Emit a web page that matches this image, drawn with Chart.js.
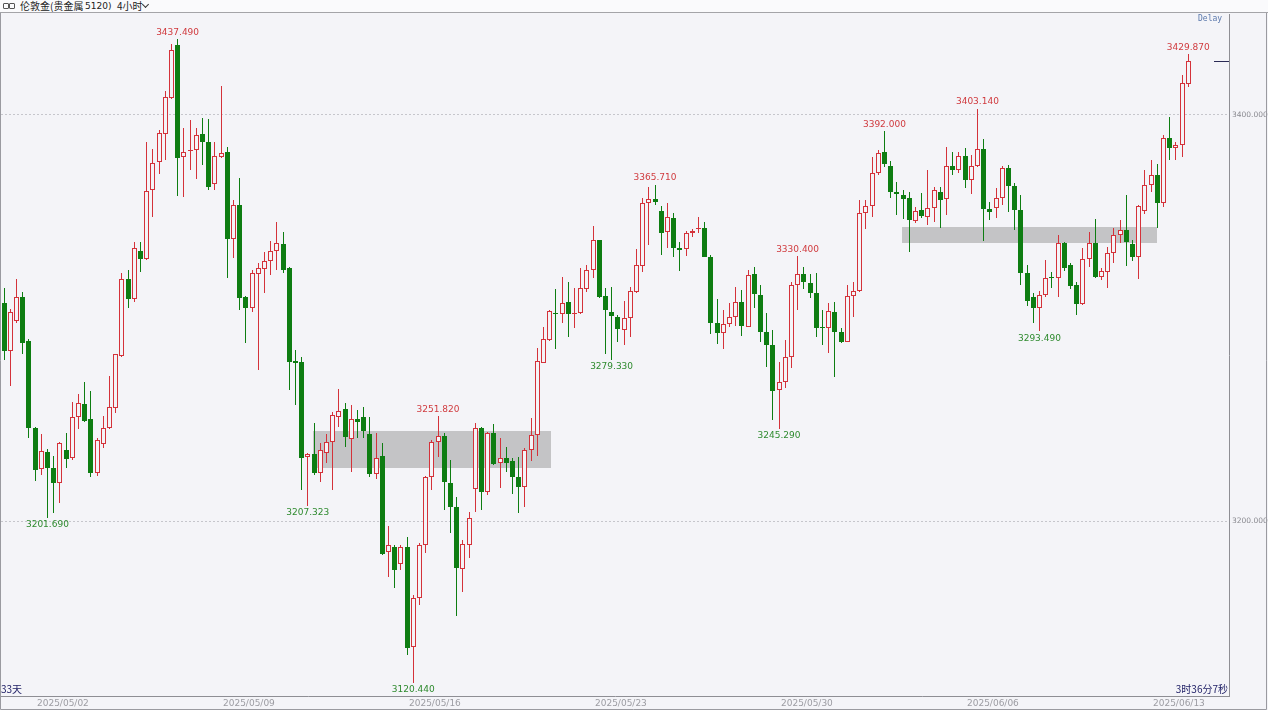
<!DOCTYPE html>
<html>
<head>
<meta charset="utf-8">
<script src="https://cdn.jsdelivr.net/npm/chart.js@4.4.1/dist/chart.umd.min.js"></script>
<style>
html, body { margin: 0; padding: 0; background: #f4f4f8; }
#wrap { position: relative; width: 1268px; height: 710px; overflow: hidden; }
#head { position: absolute; left: 0; top: 0; width: 1268px; height: 12px; background: #fafafc; border-bottom: 1px solid #a4a4a8; color: #222; }
#head span { position: absolute; top: 0; line-height: 12px; white-space: nowrap; }
.cjk { font: 10px "Noto Sans CJK SC", sans-serif; }
.lat { font: 9px "DejaVu Sans", sans-serif; }
.ico { left: 3px; top: 3px !important; width: 12px; height: 6px; }
.ico i { position: absolute; top: 0; width: 4px; height: 4px; border: 1px solid #555; border-radius: 1px; }
#head .chev { left: 143px; top: 2px; width: 4px; height: 4px; border-right: 1px solid #333; border-bottom: 1px solid #333; transform: rotate(45deg); }
.note { position: absolute; font: 10px "Noto Sans CJK SC", sans-serif; color: #232368; line-height: 12px; }
#delay { position: absolute; left: 1198px; top: 14px; font: 8px "DejaVu Sans Mono", monospace; color: #5b79ad; }
canvas { position: absolute; left: 0; top: 0; }
</style>
</head>
<body>
<div id="wrap">
  <canvas id="c" width="1268" height="710"></canvas>
  <div id="head">
    <span class="ico"><i style="left:0"></i><i style="left:6px"></i></span>
    <span class="cjk" style="left:20px">伦敦金(贵金属</span>
    <span class="lat" style="left:85px">5120)</span>
    <span class="cjk" style="left:117px">4小时</span>
    <span class="chev"></span>
  </div>
  <div id="delay">Delay</div>
  <div class="note" style="left:1px; top:683px">33天</div>
  <div class="note" style="right:40px; top:683px">3时36分7秒</div>
</div>
<script>
// 4h candles
const open = [3307.5,3283.7,3298.5,3310.2,3288.7,3246.0,3225.6,3233.8,3225.9,3218.9,
  3235.0,3230.9,3251.4,3257.6,3250.1,3223.8,3237.8,3246.0,3255.5,3281.4,
  3319.2,3309.2,3333.0,3328.9,3363.1,3376.7,3390.5,3408.2,3434.5,3379.1,
  3382.1,3382.8,3390.5,3386.9,3365.9,3379.5,3381.6,3338.8,3355.7,3310.5,
  3305.1,3321.5,3324.1,3328.1,3333.0,3336.3,3324.5,3279.0,3278.5,3231.7,
  3232.9,3223.8,3233.4,3239.1,3251.4,3255.3,3240.2,3250.3,3251.4,3242.9,
  3223.2,3232.0,3184.9,3187.4,3178.7,3187.0,3137.8,3161.9,3188.2,3221.5,
  3239.1,3241.9,3218.9,3206.7,3176.4,3188.2,3215.8,3245.7,3214.5,3243.5,
  3228.4,3230.9,3229.7,3221.5,3216.6,3235.0,3242.4,3278.0,3289.2,3302.6,
  3302.0,3307.7,3302.0,3302.3,3314.1,3323.6,3338.4,3310.8,3303.1,3300.7,
  3294.1,3300.2,3312.6,3325.8,3356.5,3358.5,3352.9,3342.2,3349.4,3334.3,
  3333.8,3341.7,3343.7,3344.5,3330.2,3297.7,3292.8,3297.0,3300.3,3308.0,
  3295.7,3321.7,3311.3,3292.9,3286.7,3264.5,3268.3,3280.9,3316.2,3321.7,
  3317.4,3312.1,3295.7,3295.2,3303.1,3293.2,3288.3,3310.8,3313.5,3351.9,
  3355.2,3371.6,3381.9,3374.9,3362.1,3360.4,3358.9,3347.9,3353.2,3349.9,
  3354.3,3362.2,3358.5,3374.9,3372.9,3379.8,3368.0,3374.9,3383.1,3353.7,
  3354.0,3358.9,3373.7,3365.2,3353.2,3322.3,3310.5,3304.8,3311.3,3320.4,
  3319.5,3336.8,3326.1,3316.3,3306.7,3328.9,3336.8,3320.4,3322.8,3331.8,
  3340.9,3343.4,3336.5,3329.9,3352.9,3365.5,3370.4,3356.5,3388.5,3383.6,
  3385.2,3415.1];
const high = [3314.6,3304.4,3319.2,3313.0,3289.8,3246.5,3242.9,3235.5,3232.2,3239.1,
  3243.5,3258.5,3262.6,3268.6,3264.0,3241.1,3251.7,3271.6,3282.5,3322.0,
  3323.6,3337.6,3337.6,3386.9,3383.1,3392.6,3411.8,3435.0,3437.49,3393.8,
  3397.5,3393.8,3398.4,3397.9,3386.9,3414.3,3384.4,3358.1,3369.1,3311.0,
  3323.6,3326.9,3332.7,3338.1,3347.1,3342.5,3325.0,3284.2,3281.0,3233.3,
  3248.1,3238.3,3242.9,3253.9,3264.9,3258.0,3257.2,3254.7,3256.3,3251.1,
  3243.2,3238.6,3197.5,3188.2,3188.2,3192.0,3163.6,3189.0,3222.0,3239.9,
  3251.82,3243.2,3230.1,3212.0,3190.6,3204.6,3248.5,3246.2,3244.0,3247.6,
  3240.7,3236.6,3230.9,3231.7,3235.8,3250.6,3285.1,3295.4,3303.9,3314.1,
  3320.0,3317.9,3314.6,3324.5,3326.1,3345.3,3338.6,3314.6,3315.4,3301.5,
  3308.5,3315.4,3334.0,3358.9,3364.4,3365.71,3355.2,3356.5,3351.9,3337.6,
  3343.0,3343.7,3349.9,3347.4,3331.0,3309.2,3303.9,3307.5,3315.1,3313.8,
  3323.6,3325.3,3316.2,3302.3,3294.1,3278.5,3289.2,3317.9,3330.4,3325.3,
  3321.7,3322.0,3303.9,3307.2,3308.0,3294.9,3316.2,3317.9,3358.1,3358.1,
  3379.1,3382.7,3392.0,3377.5,3367.1,3363.0,3362.2,3354.8,3361.4,3372.9,
  3364.7,3364.7,3384.4,3381.6,3381.9,3383.9,3380.3,3403.14,3388.2,3357.0,
  3363.9,3374.9,3375.4,3366.3,3360.6,3326.1,3312.2,3313.3,3328.6,3322.8,
  3340.9,3337.5,3327.0,3317.9,3334.6,3342.5,3348.8,3324.5,3335.1,3344.2,
  3348.3,3360.6,3338.4,3355.7,3372.9,3377.8,3375.9,3390.1,3399.2,3386.9,
  3419.7,3429.87];
const low = [3279.3,3266.5,3297.4,3282.3,3240.7,3219.9,3222.7,3201.69,3203.8,3209.0,
  3225.9,3230.0,3245.3,3249.0,3221.8,3222.3,3235.8,3245.2,3253.0,3281.0,
  3304.8,3308.0,3322.8,3328.6,3349.6,3370.9,3377.8,3408.0,3360.3,3359.8,
  3372.9,3368.6,3375.4,3363.1,3363.1,3378.6,3319.5,3329.7,3303.9,3287.9,
  3303.1,3274.4,3312.2,3321.2,3323.6,3322.0,3264.5,3257.2,3215.3,3207.323,
  3222.7,3219.4,3228.4,3215.3,3246.2,3236.6,3224.3,3240.7,3240.7,3221.8,
  3220.5,3183.5,3172.6,3166.8,3175.9,3134.0,3120.44,3158.6,3184.1,3215.3,
  3231.7,3205.4,3194.0,3153.2,3165.2,3181.6,3204.6,3205.4,3213.0,3227.6,
  3216.1,3224.3,3213.3,3203.8,3207.1,3229.7,3232.2,3277.7,3288.9,3284.7,
  3297.4,3290.8,3294.9,3302.0,3313.0,3319.5,3309.7,3282.3,3279.33,3288.3,
  3286.7,3290.8,3312.2,3322.8,3336.0,3355.7,3331.0,3334.3,3329.9,3323.3,
  3330.5,3340.0,3341.7,3329.9,3292.0,3287.2,3284.7,3295.7,3296.1,3291.1,
  3295.4,3304.8,3288.0,3276.0,3249.7,3245.29,3265.3,3275.2,3303.9,3314.1,
  3309.7,3290.5,3286.7,3282.6,3271.1,3287.9,3288.0,3300.6,3313.0,3343.7,
  3349.6,3370.4,3374.5,3358.9,3350.7,3348.6,3332.7,3347.0,3349.1,3345.8,
  3347.4,3344.2,3350.7,3370.4,3371.3,3363.9,3360.9,3374.5,3338.1,3348.3,
  3349.1,3355.7,3352.4,3343.3,3316.3,3306.1,3297.4,3293.49,3310.5,3314.6,
  3310.5,3323.0,3314.3,3301.5,3306.4,3325.3,3319.5,3318.7,3315.0,3326.9,
  3336.8,3325.6,3328.2,3319.1,3351.2,3362.2,3344.2,3354.8,3377.8,3377.8,
  3379.2,3414.0];
const close = [3283.9,3303.1,3310.2,3287.5,3246.0,3225.1,3234.6,3225.9,3218.6,3238.4,
  3230.5,3251.4,3258.0,3249.3,3223.8,3239.9,3245.7,3256.0,3282.1,3319.2,
  3309.4,3334.3,3328.9,3362.7,3376.5,3391.0,3409.0,3432.0,3379.0,3381.6,
  3382.8,3390.0,3386.9,3364.7,3379.8,3381.4,3338.8,3355.7,3309.7,3305.1,
  3322.0,3324.5,3328.1,3333.0,3336.8,3323.6,3278.5,3278.0,3230.9,3232.9,
  3223.8,3235.0,3239.1,3252.2,3254.4,3241.6,3250.1,3248.9,3244.5,3223.2,
  3231.2,3183.8,3188.2,3175.9,3187.0,3137.3,3161.9,3188.2,3221.5,3239.1,
  3242.0,3219.4,3206.7,3176.7,3188.5,3201.7,3246.0,3214.5,3243.5,3228.1,
  3231.2,3228.7,3221.8,3216.6,3235.0,3242.4,3278.8,3289.5,3303.4,3302.0,
  3307.5,3302.0,3302.5,3314.6,3323.6,3338.4,3310.2,3303.9,3301.0,3294.4,
  3300.2,3313.3,3326.1,3356.5,3358.5,3357.0,3341.7,3349.6,3334.3,3333.5,
  3341.7,3342.9,3344.5,3330.2,3297.7,3292.8,3297.0,3300.7,3308.0,3296.1,
  3321.2,3311.7,3292.9,3286.7,3264.2,3268.3,3280.9,3316.2,3321.7,3317.9,
  3312.1,3294.9,3294.9,3303.6,3292.9,3288.3,3310.8,3313.5,3351.5,3355.2,
  3371.6,3381.1,3375.7,3362.2,3360.9,3358.4,3348.3,3352.7,3350.2,3354.3,
  3363.0,3358.1,3374.9,3372.9,3379.8,3368.0,3375.0,3383.1,3353.5,3352.4,
  3359.3,3373.7,3365.2,3353.2,3322.0,3308.4,3304.8,3311.3,3319.5,3319.5,
  3336.8,3324.5,3316.0,3306.7,3328.9,3336.8,3320.4,3323.2,3331.8,3340.9,
  3343.3,3337.6,3329.9,3355.2,3365.5,3370.4,3356.5,3388.5,3383.6,3385.2,
  3415.6,3426.8];

// axis ticks
const dateLabels = ['2025/05/02', '2025/05/09', '2025/05/16', '2025/05/23', '2025/05/30', '2025/06/06', '2025/06/13'];
const datePos = [9.5, 39.5, 69.5, 99.5, 129.5, 159.5, 189.5];
const priceTicks = [3200, 3400];

// marked swing highs / lows (candle index)
const peakIdx = [28, 70, 105, 128, 142, 157, 191];
const troughIdx = [7, 49, 66, 98, 125, 167];

// grey consolidation boxes
const zoneFrom = [49.8, 144.8];
const zoneTo = [88.2, 186.0];
const zoneTop = [3244.5, 3344.6];
const zoneBottom = [3226.3, 3336.8];

const BG = '#f4f4f8';
const RED = '#d4323a';
const GREEN = '#0e7d12';

const bullBodies = [], bearBodies = [], bullWicks = [], bearWicks = [];
open.forEach((o, i) => {
    const up = close[i] >= o;
    (up ? bullBodies : bearBodies).push({ x: i, y: [o, close[i]] });
    (up ? bullWicks : bearWicks).push({ x: i, y: [low[i], high[i]] });
});

// snap bars to whole pixels so the 1px outlines and wicks stay crisp
const snap = {
    id: 'snap',
    afterDatasetsUpdate(chart) {
        chart.data.datasets.forEach((ds, d) => {
            chart.getDatasetMeta(d).data.forEach(el => {
                el.x = Math.floor(el.x) + 0.5;
                let top = Math.round(el.y), base = Math.round(el.base);
                if (Math.abs(base - top) < 1) base = top + 1;
                el.y = top;
                el.base = base;
            });
        });
    }
};

const overlay = {
    id: 'overlay',
    beforeDatasetsDraw(chart) {
        const { ctx, scales: { x, y } } = chart;
        ctx.save();
        ctx.fillStyle = '#c4c4c6';
        zoneFrom.forEach((f, k) => {
            const x0 = Math.round(x.getPixelForValue(f)), x1 = Math.round(x.getPixelForValue(zoneTo[k]));
            const y0 = Math.round(y.getPixelForValue(zoneTop[k])), y1 = Math.round(y.getPixelForValue(zoneBottom[k]));
            ctx.fillRect(x0, y0, x1 - x0, y1 - y0);
        });
        ctx.restore();
    },
    afterDatasetsDraw(chart) {
        const { ctx, chartArea, scales: { x, y } } = chart;
        ctx.save();
        ctx.font = '9px "DejaVu Sans", sans-serif';
        ctx.textAlign = 'center';
        ctx.textBaseline = 'middle';
        ctx.fillStyle = '#d03a3e';
        peakIdx.forEach(i => {
            ctx.fillText(high[i].toFixed(3), x.getPixelForValue(i), y.getPixelForValue(high[i]) - 6.5);
        });
        ctx.fillStyle = '#2e8a2e';
        troughIdx.forEach(i => {
            ctx.fillText(low[i].toFixed(3), x.getPixelForValue(i), y.getPixelForValue(low[i]) + 7);
        });
        // last price marker
        const ly = Math.round(y.getPixelForValue(close[close.length - 1])) + 0.5;
        ctx.strokeStyle = '#2a2a55';
        ctx.lineWidth = 1;
        ctx.beginPath();
        ctx.moveTo(chartArea.right - 15, ly);
        ctx.lineTo(chartArea.right, ly);
        ctx.stroke();
        ctx.restore();
    },
    afterDraw(chart) {
        const { ctx } = chart;
        ctx.save();
        ctx.strokeStyle = '#9a9aa0';
        ctx.lineWidth = 1;
        ctx.beginPath();
        ctx.moveTo(0.5, 12); ctx.lineTo(0.5, 709.5);
        ctx.lineTo(1266.5, 709.5); ctx.lineTo(1266.5, 12);
        ctx.stroke();
        ctx.restore();
    }
};

const barBase = { grouped: false, inflateAmount: 0, borderSkipped: false };

new Chart(document.getElementById('c'), {
    type: 'bar',
    data: {
        datasets: [
            { ...barBase, data: bullBodies, backgroundColor: BG, borderColor: RED, borderWidth: 1, barThickness: 5, order: 0 },
            { ...barBase, data: bearBodies, backgroundColor: GREEN, borderColor: GREEN, borderWidth: 0, barThickness: 5, order: 0 },
            { ...barBase, data: bullWicks, backgroundColor: RED, borderWidth: 0, barThickness: 1, order: 1 },
            { ...barBase, data: bearWicks, backgroundColor: GREEN, borderWidth: 0, barThickness: 1, order: 1 }
        ]
    },
    options: {
        responsive: false,
        animation: false,
        devicePixelRatio: 1,
        layout: { padding: { top: 14, left: 1, right: 0, bottom: 0 } },
        plugins: { legend: { display: false }, tooltip: { enabled: false } },
        scales: {
            x: {
                type: 'linear',
                min: -0.484,
                max: 197.58,
                offset: false,
                afterFit(s) { s.height = 14; },
                afterBuildTicks(s) { s.ticks = datePos.map(v => ({ value: v })); },
                ticks: {
                    autoSkip: false,
                    maxRotation: 0,
                    padding: 2,
                    color: '#9c9ca2',
                    font: { family: 'DejaVu Sans', size: 9 },
                    callback: (v, i) => dateLabels[i]
                },
                grid: { display: false, drawTicks: false },
                border: { color: '#8e8e94' }
            },
            y: {
                position: 'right',
                min: 3113.8,
                max: 3449.75,
                beginAtZero: false,
                afterFit(s) { s.width = 39; },
                afterBuildTicks(s) { s.ticks = priceTicks.map(v => ({ value: v })); },
                ticks: {
                    padding: 3,
                    color: '#8a8a90',
                    font: { family: 'DejaVu Sans', size: 7.5 },
                    callback: v => v.toFixed(3)
                },
                grid: { color: '#c6c6cc', drawTicks: false },
                border: { color: '#8e8e94', dash: [2, 2] }
            }
        }
    },
    plugins: [snap, overlay]
});
</script>
</body>
</html>
